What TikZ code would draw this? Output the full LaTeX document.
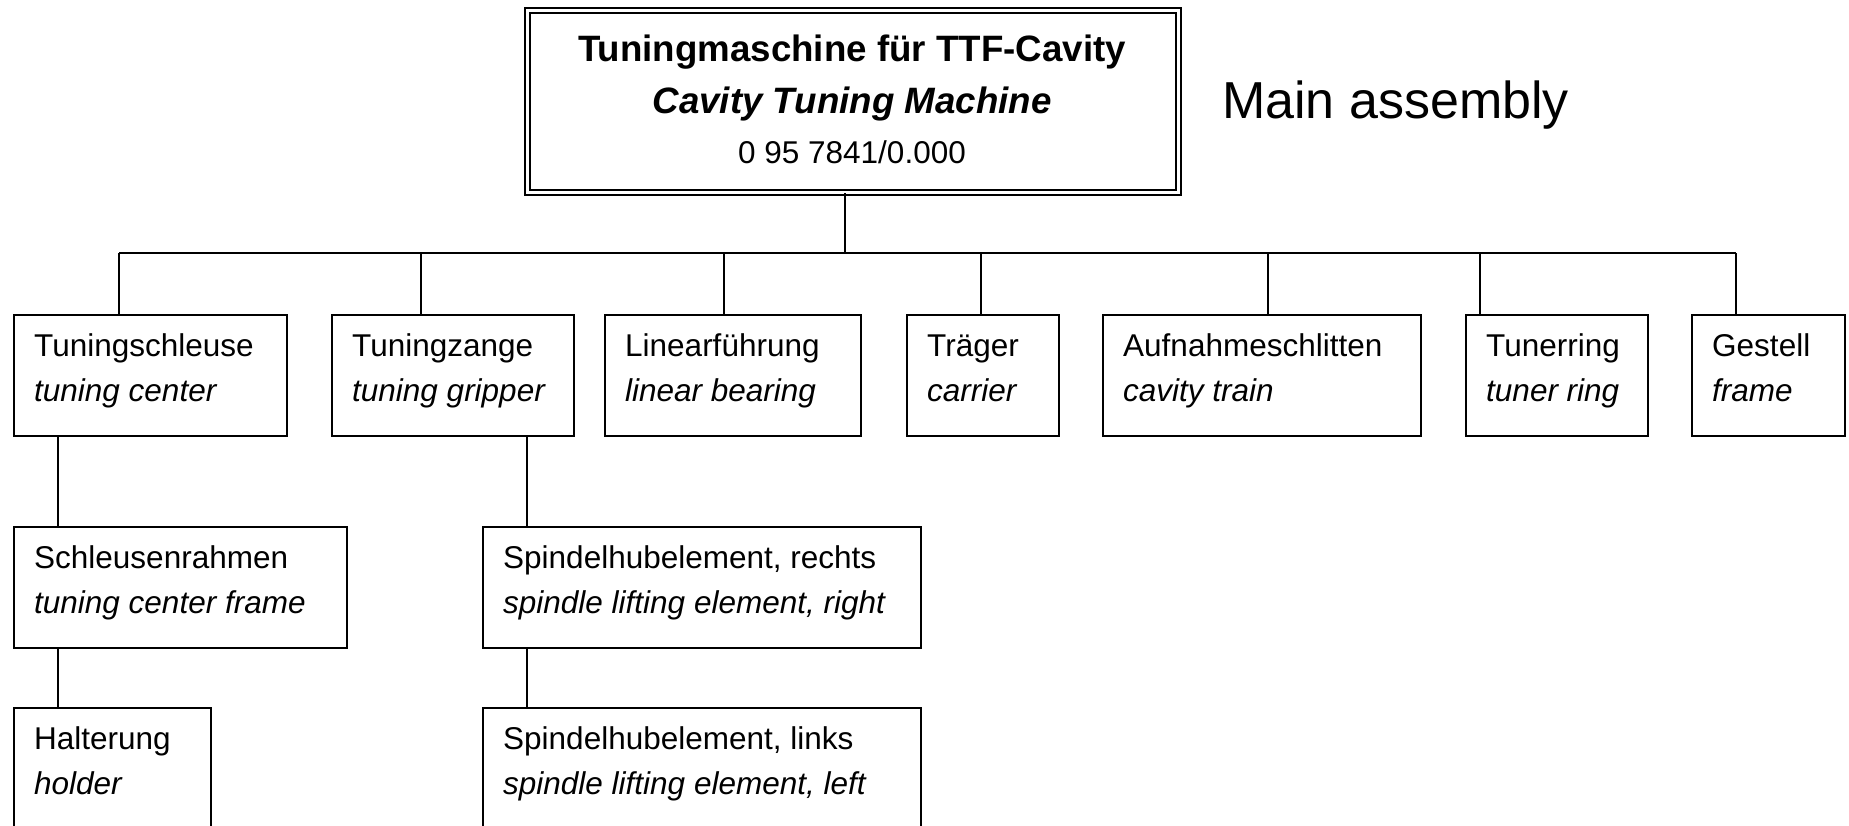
\documentclass[tikz,border=0pt]{standalone}
\usepackage{fontspec}
\setmainfont{Liberation Sans}
\usetikzlibrary{calc}
\newcommand\twolines[2]{\begin{tabular}[t]{@{}l@{}}#1\\\textit{#2}\end{tabular}}
\begin{document}
\begin{tikzpicture}[x=1pt,y=-1pt,
  box/.style={draw, line width=2pt, inner sep=0pt, anchor=north west},
  lbl/.style={inner sep=0pt, anchor=base west, font=\fontsize{31.5pt}{45pt}\selectfont},
  conn/.style={line width=1.3pt},
  mainbox/.style={draw, double, double distance=3pt, line width=1.7pt, inner sep=0pt},
]
\useasboundingbox (0,0) rectangle (1849,825);
\clip (0,0) rectangle (1849,825);

% main assembly
\node[mainbox, minimum width=651pt, minimum height=182pt] (main) at (853,101.5) {};
\node[inner sep=0pt, anchor=base, font=\fontsize{36.7pt}{44pt}\selectfont\bfseries] (mt1) at (852,61) {Tuningmaschine für TTF-Cavity};
\node[inner sep=0pt, anchor=base, font=\fontsize{36.7pt}{44pt}\selectfont\bfseries\itshape] (mt2) at (852,113) {Cavity Tuning Machine};
\node[inner sep=0pt, anchor=base, font=\fontsize{31.5pt}{40pt}\selectfont] (mt3) at (852,163) {0 95 7841/0.000};
\node[inner sep=0pt, anchor=base west, font=\fontsize{52pt}{60pt}\selectfont] (ma) at (1222,118) {Main assembly};

% first level boxes
\node[box, minimum width=273pt, minimum height=121pt] (b1) at (13,314) {};
\node[box, minimum width=242pt, minimum height=121pt] (b2) at (331,314) {};
\node[box, minimum width=256pt, minimum height=121pt] (b3) at (604,314) {};
\node[box, minimum width=152pt, minimum height=121pt] (b4) at (906,314) {};
\node[box, minimum width=318pt, minimum height=121pt] (b5) at (1102,314) {};
\node[box, minimum width=182pt, minimum height=121pt] (b6) at (1465,314) {};
\node[box, minimum width=153pt, minimum height=121pt] (b7) at (1691,314) {};

\node[lbl] (b1t) at ($(b1.north west)+(21,42)$) {\twolines{Tuningschleuse}{tuning center}};
\node[lbl] (b2t) at ($(b2.north west)+(21,42)$) {\twolines{Tuningzange}{tuning gripper}};
\node[lbl] (b3t) at ($(b3.north west)+(21,42)$) {\twolines{Linearführung}{linear bearing}};
\node[lbl] (b4t) at ($(b4.north west)+(21,42)$) {\twolines{Träger}{carrier}};
\node[lbl] (b5t) at ($(b5.north west)+(21,42)$) {\twolines{Aufnahmeschlitten}{cavity train}};
\node[lbl] (b6t) at ($(b6.north west)+(21,42)$) {\twolines{Tunerring}{tuner ring}};
\node[lbl] (b7t) at ($(b7.north west)+(21,42)$) {\twolines{Gestell}{frame}};

% second and third level boxes
\node[box, minimum width=333pt, minimum height=121pt] (c1) at (13,526) {};
\node[box, minimum width=197pt, minimum height=130pt] (c2) at (13,707) {};
\node[box, minimum width=438pt, minimum height=121pt] (d1) at (482,526) {};
\node[box, minimum width=438pt, minimum height=130pt] (d2) at (482,707) {};

\node[lbl] (c1t) at ($(c1.north west)+(21,42)$) {\twolines{Schleusenrahmen}{tuning center frame}};
\node[lbl] (c2t) at ($(c2.north west)+(21,42)$) {\twolines{Halterung}{holder}};
\node[lbl] (d1t) at ($(d1.north west)+(21,42)$) {\twolines{Spindelhubelement, rechts}{spindle lifting element, right}};
\node[lbl] (d2t) at ($(d2.north west)+(21,42)$) {\twolines{Spindelhubelement, links}{spindle lifting element, left}};

% connectors
\coordinate (hub) at (845,253);
\coordinate (j1) at (119,253);
\coordinate (j2) at (421,253);
\coordinate (j3) at (724,253);
\coordinate (j4) at (981,253);
\coordinate (j5) at (1268,253);
\coordinate (j6) at (1480,253);
\coordinate (j7) at (1736,253);
\coordinate (k1) at (58,0);
\coordinate (k2) at (527,0);

\draw[conn] (hub |- main.south) -- (hub);
\draw[conn] (j1) -- (j7);
\foreach \i in {1,...,7}{
  \draw[conn] (j\i) -- (j\i |- b\i.north);
}
\draw[conn] (k1 |- b1.south) -- (k1 |- c1.north);
\draw[conn] (k1 |- c1.south) -- (k1 |- c2.north);
\draw[conn] (k2 |- b2.south) -- (k2 |- d1.north);
\draw[conn] (k2 |- d1.south) -- (k2 |- d2.north);
\end{tikzpicture}
\end{document}
